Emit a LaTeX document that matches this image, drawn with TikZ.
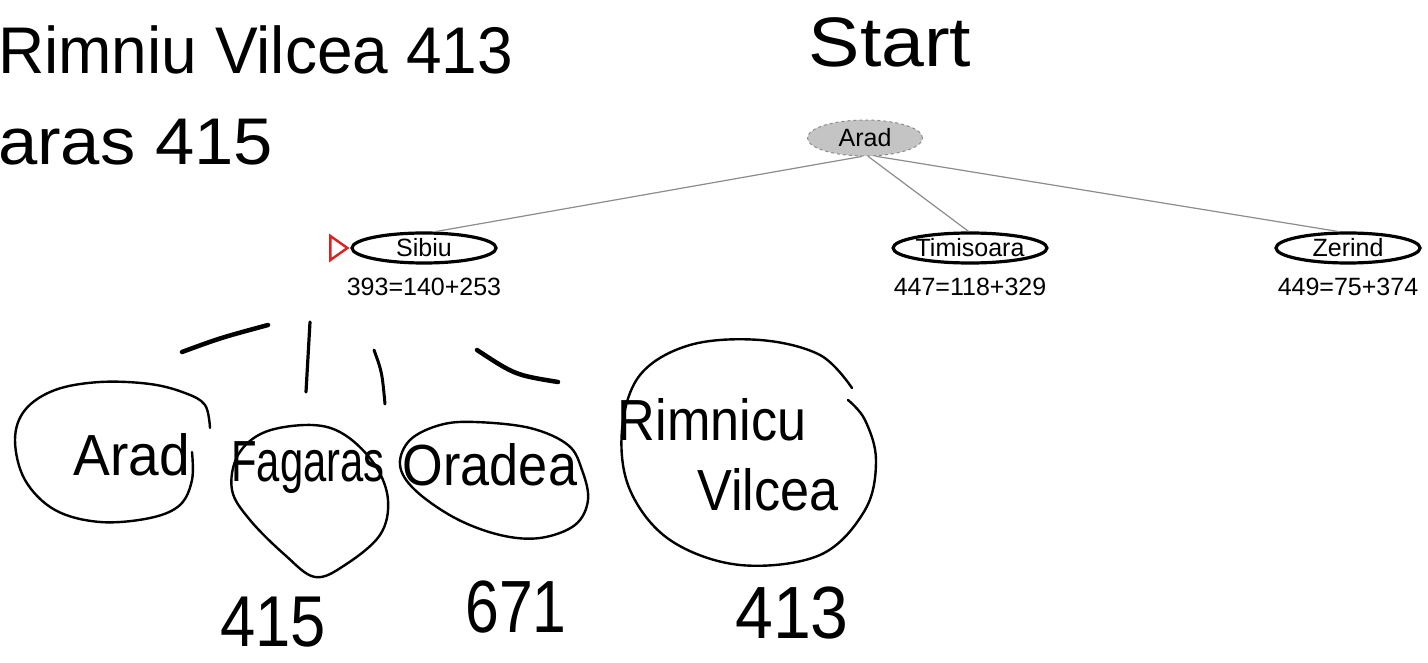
\documentclass[tikz,border=0pt]{standalone}
\usepackage{fontspec}
\setmainfont{Liberation Sans}
\usetikzlibrary{shapes.geometric}
\definecolor{edgegray}{HTML}{8C8C8C}
\definecolor{nodegray}{HTML}{C4C4C4}
\definecolor{markred}{HTML}{E02020}
\tikzset{
  treenode/.style={ellipse, draw=black, line width=3.2pt, inner sep=0pt,
    minimum width=144pt, minimum height=30pt, font=\fontsize{25}{27}\selectfont},
  rootnode/.style={ellipse, draw=edgegray, dashed, fill=nodegray, line width=1pt,
    inner sep=0pt, minimum width=115pt, minimum height=36pt,
    font=\fontsize{25}{27}\selectfont},
  costlabel/.style={inner sep=0pt, font=\fontsize{25}{27}\selectfont},
  treeedge/.style={draw=edgegray, line width=1.2pt},
  handtext/.style={inner sep=0pt, font=\fontsize{#1}{#1}\selectfont},
  handtext/.default=58,
  pen/.style={line width=2.4pt, line cap=round, line join=round},
  heavypen/.style={line width=4.5pt, line cap=round, line join=round}
}
\begin{document}
\begin{tikzpicture}[x=1pt, y=-1pt]
  \useasboundingbox (0,0) rectangle (1428,663);

  % search tree
  \node[rootnode] (arad) at (865,138) {Arad};
  \node[treenode] (sibiu) at (424,248) {Sibiu};
  \node[treenode] (timisoara) at (970,248) {Timisoara};
  \node[treenode] (zerind) at (1348,248) {Zerind};
  \node[costlabel] (csibiu) at (424,287) {393=140+253};
  \node[costlabel] (ctimisoara) at (970,287) {447=118+329};
  \node[costlabel] (czerind) at (1348,287) {449=75+374};

  \draw[treeedge] (arad.-100) -- (sibiu.55);
  \draw[treeedge] (arad.-80) -- (timisoara.95);
  \draw[treeedge] (arad.-60) -- (zerind.120);

  % marker for the expanded node
  \coordinate (mark) at (sibiu.west);
  \draw[markred, line width=2.4pt, line join=miter]
    ([xshift=-20pt,yshift=-12pt]mark) -- ([xshift=-3pt]mark)
    -- ([xshift=-20pt,yshift=12pt]mark) -- cycle;

  % handwritten notes
  \node[handtext=66, anchor=west] (note1) at (-2,50) {\scalebox{0.97}[1]{Rimniu Vilcea 413}};
  \node[handtext=66, anchor=west] (note2) at (-2,142) {\scalebox{1.07}[1]{aras 415}};
  \node[handtext=70] (start) at (890,42) {\scalebox{1.1}[1]{Start}};

  % hand-drawn branches under Sibiu
  \draw[heavypen] (182,352) .. controls (220,338) .. (268,325);
  \draw[pen, line width=3.2pt] (310,322) -- (306,392);
  \draw[pen, line width=3pt] (374,350) .. controls (382,372) .. (385,404);
  \draw[heavypen] (477,350) .. controls (515,375) .. (558,382);

  % hand-drawn children
  \draw[pen] plot[smooth, tension=0.6] coordinates {(210,428) (205,405) (185,393) (150,384)
    (100,382) (55,390) (25,410) (15,440) (25,480) (55,510) (100,522) (150,518)
    (180,505) (192,480) (192,452)};
  \node[handtext] (harad) at (132,455) {\scalebox{0.95}[1]{Arad}};

  \draw[pen] plot[smooth cycle, tension=0.6] coordinates {(312,425) (345,435) (375,465)
    (388,500) (380,535) (345,565) (315,577) (285,555) (250,520) (232,490)
    (238,455) (265,432)};
  \node[handtext] (hfagaras) at (308,468) {\scalebox{0.72}[1]{Fagaras}};

  \draw[pen] plot[smooth cycle, tension=0.6] coordinates {(475,422) (530,428) (568,445)
    (582,470) (588,500) (575,525) (540,538) (500,535) (455,518) (415,490)
    (400,465) (410,440) (440,425)};
  \node[handtext] (horadea) at (490,465) {\scalebox{0.9}[1]{Oradea}};

  \draw[pen] plot[smooth, tension=0.6] coordinates {(852,388) (820,355) (760,340)
    (690,345) (640,375) (622,430) (630,490) (670,540) (740,565) (820,555)
    (865,510) (876,460) (865,420) (848,400)};
  \node[handtext] (hrimnicu) at (712,420) {\scalebox{0.9}[1]{Rimnicu}};
  \node[handtext] (hvilcea) at (768,490) {\scalebox{0.9}[1]{Vilcea}};

  \node[handtext=72] (c415) at (273,622) {\scalebox{0.88}[1]{415}};
  \node[handtext=74] (c671) at (516,607) {\scalebox{0.82}[1]{671}};
  \node[handtext=74] (c413) at (792,613) {\scalebox{0.92}[1]{413}};
\end{tikzpicture}
\end{document}
